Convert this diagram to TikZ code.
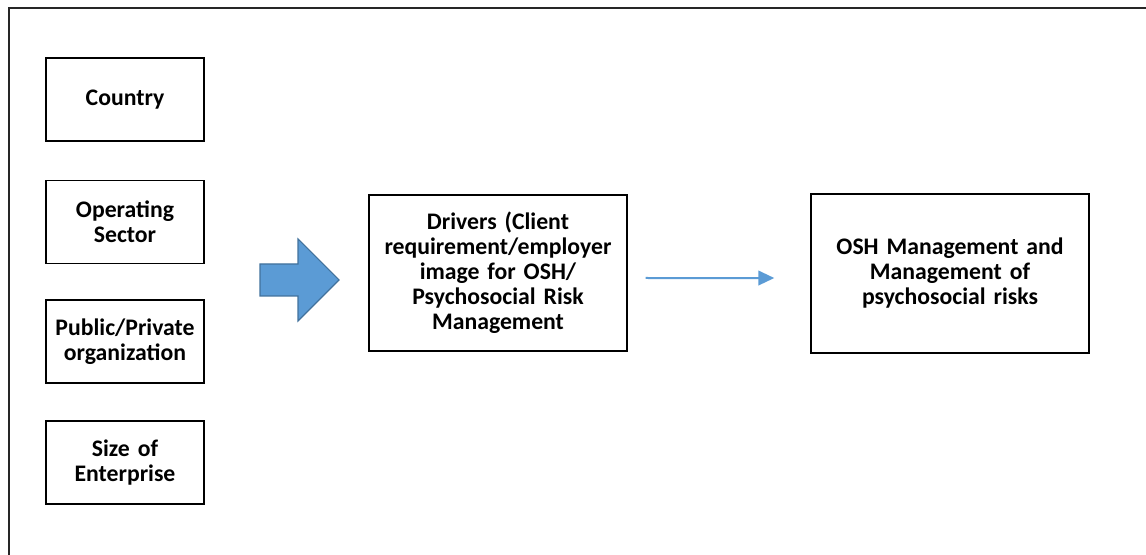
\documentclass[tikz,border=0pt]{standalone}
\usepackage{fontspec}
\setmainfont{Carlito}
\usetikzlibrary{arrows.meta}
\definecolor{blockblue}{HTML}{5B9BD5}
\definecolor{blockedge}{HTML}{41719C}
\tikzset{
  factor/.style={draw=black, line width=1.1pt, minimum width=118.5pt, minimum height=62pt,
    inner sep=2pt, align=center, text width=114pt, font=\fontsize{17.8}{18.75}\selectfont\bfseries},
  bigbox/.style={draw=black, line width=1.1pt, align=center, inner sep=2pt,
    font=\fontsize{17.8}{18.75}\selectfont\bfseries},
  flow/.style={draw=blockblue, line width=1.5pt, -{Triangle[length=12pt,width=11pt]}},
  blockarrow/.style={fill=blockblue, draw=blockedge, line width=0.8pt, line join=miter},
  frame/.style={draw=black!85, line width=1.2pt}
}
\begin{document}
\begin{tikzpicture}[x=0.75pt,y=-0.75pt]
\useasboundingbox (0,0) rectangle (1146,555);
\draw[frame] (9,555) -- (9,8) -- (1146,8);
\node[factor] (country) at (125,99.5) {Country};
\node[factor] (sector) at (125,222) {Operating\\Sector};
\node[factor] (public) at (125,341.5) {Public/Private\\organization};
\node[factor] (size) at (125,462.5) {Size of\\Enterprise};
\node[bigbox, minimum width=193.5pt, minimum height=117pt, text width=186pt] (drv) at (498,273) {Drivers (Client\\requirement/employer\\image for OSH/\\Psychosocial Risk\\Management\\[4pt]};
\node[bigbox, minimum width=208.5pt, minimum height=119pt, text width=200pt] (osh) at (950,273.5) {OSH Management and\\Management of\\psychosocial risks};
\draw[blockarrow] (260,264) -- (298,264) -- (298,239) -- (339,280) -- (298,321) -- (298,296) -- (260,296) -- cycle;
\draw[flow, shorten <=13.5pt, shorten >=27pt] ([yshift=-3.75pt]drv.east) -- ([yshift=-3.4pt]osh.west);
\end{tikzpicture}
\end{document}
